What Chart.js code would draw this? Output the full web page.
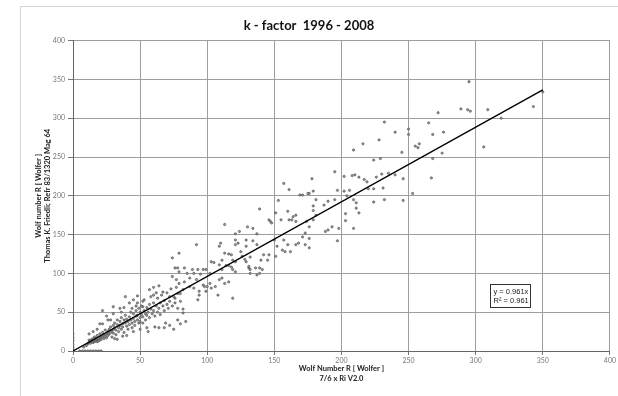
<!DOCTYPE html>
<html><head><meta charset="utf-8">
<script src="https://cdn.jsdelivr.net/npm/chart.js@4/dist/chart.umd.min.js"></script>
<style>html,body{margin:0;padding:0;background:#fff}#wrap{width:618px;height:396px}</style>
</head><body><div id="wrap"><canvas id="c" width="618" height="396"></canvas></div>
<script>
const chartTitle = 'k - factor  1996 - 2008';
const xTitle = ['Wolf Number R [ Wolfer ]', '7/6 x Ri V2.0'];
const yTitle = ['Wolf number R [ Wolfer ]', 'Thomas K. Friedli; Refr 83/1320 Mag 64'];
const fitLabel = ['y = 0.961x', 'R\u00B2 = 0.961'];
const fitLabelAt = [310.5, 86.5];
const trendX = [0, 350];
const trendY = [0, 336.4];

// observations: x = 7/6 x Ri V2.0, y = Friedli Wolf number
const obsX = [
295,350,343,319,309,306,294,296,289,272,265,276,268,250,250,258,255,257,245,275,268,246,267,253,
232,240,228,216,209,224,229,195,202,208,210,213,217,219,226,230,235,240,178,220,224,231,232,224,246,197,202,206,204,209,211,211,213,203,203,209,195,181,179,176,171,161,179,179,181,179,174,176,166,163,187,190,193,190,188,198,173,176,171,197,
157,153,160,164,161,166,146,148,155,139,113,124,121,137,121,129,123,134,137,129,121,150,152,157,160,156,158,151,110,92,109,113,116,125,126,121,129,132,140,142,146,145,103,105,109,114,116,118,111,119,131,139,141,137,132,76,78,83,89,93,97,99,79,85,90,95,102,74,77,79,83,87,92,97,90,87,82,78,94,100,103,109,113,111,121,
72,76,82,82,78,93,94,98,102,99,106,108,116,119,79,74,130,134,147,151,169,175,136,139,162,166,168,173,176,111,118,119,128,131,132,61,64,69,56,31,37,22,30,39,48,52,57,60,64,67,60,53,
5,7,9,11,13,15,17,19,21,0,0,0,0,0,0,
8,10,11,12,12,13,13,14,14,15,15,15,16,16,16,17,17,18,18,18,19,19,20,20,20,21,21,22,22,23,23,24,24,25,25,26,26,27,27,28,28,29,29,30,30,30,31,31,32,32,33,33,34,34,35,35,36,36,37,37,38,38,39,39,40,40,41,41,42,42,43,43,44,44,45,45,46,46,47,47,48,48,49,49,50,50,50,51,51,52,52,53,54,54,55,55,56,57,57,58,59,60,60,61,62,63,63,64,65,65,66,67,68,68,70,70,71,72,73,74,75,76,77,80,80,
26,22,18,15,12,38,42,45,47,68,72,75,80,78,84,
20,25,30,35,28,45,50,40,33,55,58,62,48,52,44,36
];
const obsY = [
347,334,315,300,311,263,311,309,312,307,294,282,279,286,279,267,264,262,256,255,248,222,223,203,
295,282,272,267,259,246,248,231,225,226,227,224,221,218,224,228,229,227,222,209,209,210,195,192,194,207,206,207,200,195,191,184,178,177,168,158,195,195,206,203,201,208,187,181,175,169,167,160,167,169,188,193,160,156,154,158,152,145,147,142,
216,194,180,173,169,175,169,165,169,183,163,154,151,151,143,143,139,142,137,135,137,143,135,143,137,130,128,122,139,137,135,126,125,128,122,115,115,121,117,124,124,117,115,114,111,110,110,108,105,105,107,107,105,98,100,107,107,107,105,105,105,105,102,100,100,99,100,96,92,87,89,94,92,85,81,83,79,74,77,83,81,92,87,94,102,
70,68,49,54,55,66,72,83,87,77,83,72,89,68,126,120,160,158,167,178,201,203,107,100,128,137,139,137,133,117,124,117,118,109,105,31,30,36,25,16,19,52,57,70,71,57,79,82,84,76,72,66,
0,0,0,0,0,0,0,0,0,0,4,8,13,17,22,
5,7,9,11,14,10,13,12,15,11,13,16,12,14,18,13,16,12,14,20,15,13,17,14,22,15,19,18,24,16,21,19,27,22,17,25,20,28,22,31,24,26,18,33,28,23,36,30,27,21,34,40,30,25,38,33,28,43,35,31,40,24,36,46,32,41,38,28,44,34,40,50,36,30,42,48,38,33,45,52,40,46,36,55,43,50,38,47,58,44,36,52,48,40,56,46,50,60,43,54,48,62,52,45,58,68,50,55,62,47,72,58,52,65,60,75,55,64,80,58,70,62,82,74,64,
40,35,28,25,22,56,62,66,58,30,33,28,35,40,38,
35,45,48,55,40,25,28,20,15,30,70,75,62,64,55,50
];
const axisMin = 0, axisMax = 400, axisStep = 50;

const points = obsX.map((x, i) => ({x: x, y: obsY[i]}));
const trend = trendX.map((x, i) => ({x: x, y: trendY[i]}));

const frame = {
  id: 'frame',
  beforeDraw(chart) {
    const ctx = chart.ctx;
    ctx.save();
    ctx.fillStyle = '#fff';
    ctx.fillRect(0, 0, chart.width, chart.height);
    ctx.strokeStyle = '#d6d6d6';
    ctx.lineWidth = 1;
    ctx.strokeRect(20.5, 6.5, chart.width + 20, chart.height + 20);
    ctx.restore();
  }
};
const fitBox = {
  id: 'fitBox',
  afterDatasetsDraw(chart) {
    const ctx = chart.ctx, xs = chart.scales.x, ys = chart.scales.y;
    const l = Math.round(xs.getPixelForValue(fitLabelAt[0])) + 0.5;
    const t = Math.round(ys.getPixelForValue(fitLabelAt[1])) + 0.5;
    ctx.save();
    ctx.fillStyle = '#fff';
    ctx.fillRect(l, t, 40, 23);
    ctx.strokeStyle = '#333';
    ctx.lineWidth = 1;
    ctx.strokeRect(l, t, 40, 23);
    ctx.fillStyle = '#222';
    ctx.font = '7.5px "Liberation Sans", Arial, sans-serif';
    ctx.textBaseline = 'middle';
    ctx.fillText(fitLabel[0], l + 3, t + 7);
    ctx.fillText(fitLabel[1], l + 3, t + 16.5);
    ctx.restore();
  }
};

new Chart(document.getElementById('c'), {
  type: 'scatter',
  data: {
    datasets: [
      {data: points, pointStyle: 'circle', pointRadius: 1.15, borderWidth: 0.6,
       borderColor: '#444', backgroundColor: '#9a9a9a', showLine: false, order: 2},
      {type: 'line', data: trend, borderColor: '#000', borderWidth: 1.4, pointRadius: 0,
       fill: false, order: 1}
    ]
  },
  options: {
    responsive: false, animation: false, devicePixelRatio: 1,
    layout: {padding: {top: 6, left: 0, right: 0, bottom: 0}},
    plugins: {
      legend: {display: false}, tooltip: {enabled: false},
      title: {display: true, text: chartTitle, color: '#111',
              font: {family: 'Lato', size: 13, weight: 'bold'}, padding: {top: 12, bottom: 7}}
    },
    scales: {
      x: {type: 'linear', min: axisMin, max: axisMax,
          ticks: {stepSize: axisStep, color: '#777', padding: 2, font: {family: 'Lato', size: 7}},
          grid: {color: '#9d9d9d', tickLength: 4, tickColor: '#777'},
          border: {color: '#666'},
          title: {display: true, text: xTitle, color: '#222', padding: {top: 0, bottom: 13},
                  font: {family: 'Lato', size: 7.5, weight: 'bold', lineHeight: 1.25}},
          afterFit(s) { s.height = 45; }},
      y: {type: 'linear', min: axisMin, max: axisMax,
          ticks: {stepSize: axisStep, color: '#777', padding: 3, font: {family: 'Lato', size: 7}},
          grid: {color: '#9d9d9d', tickLength: 5, tickColor: '#777'},
          border: {color: '#666'},
          title: {display: true, text: yTitle, color: '#222', padding: {top: 34, bottom: 0},
                  font: {family: 'Lato', size: 7.5, weight: 'bold', lineHeight: 1.25}},
          afterFit(s) { s.width = 73; }}
    }
  },
  plugins: [frame, fitBox]
});
</script></body></html>
